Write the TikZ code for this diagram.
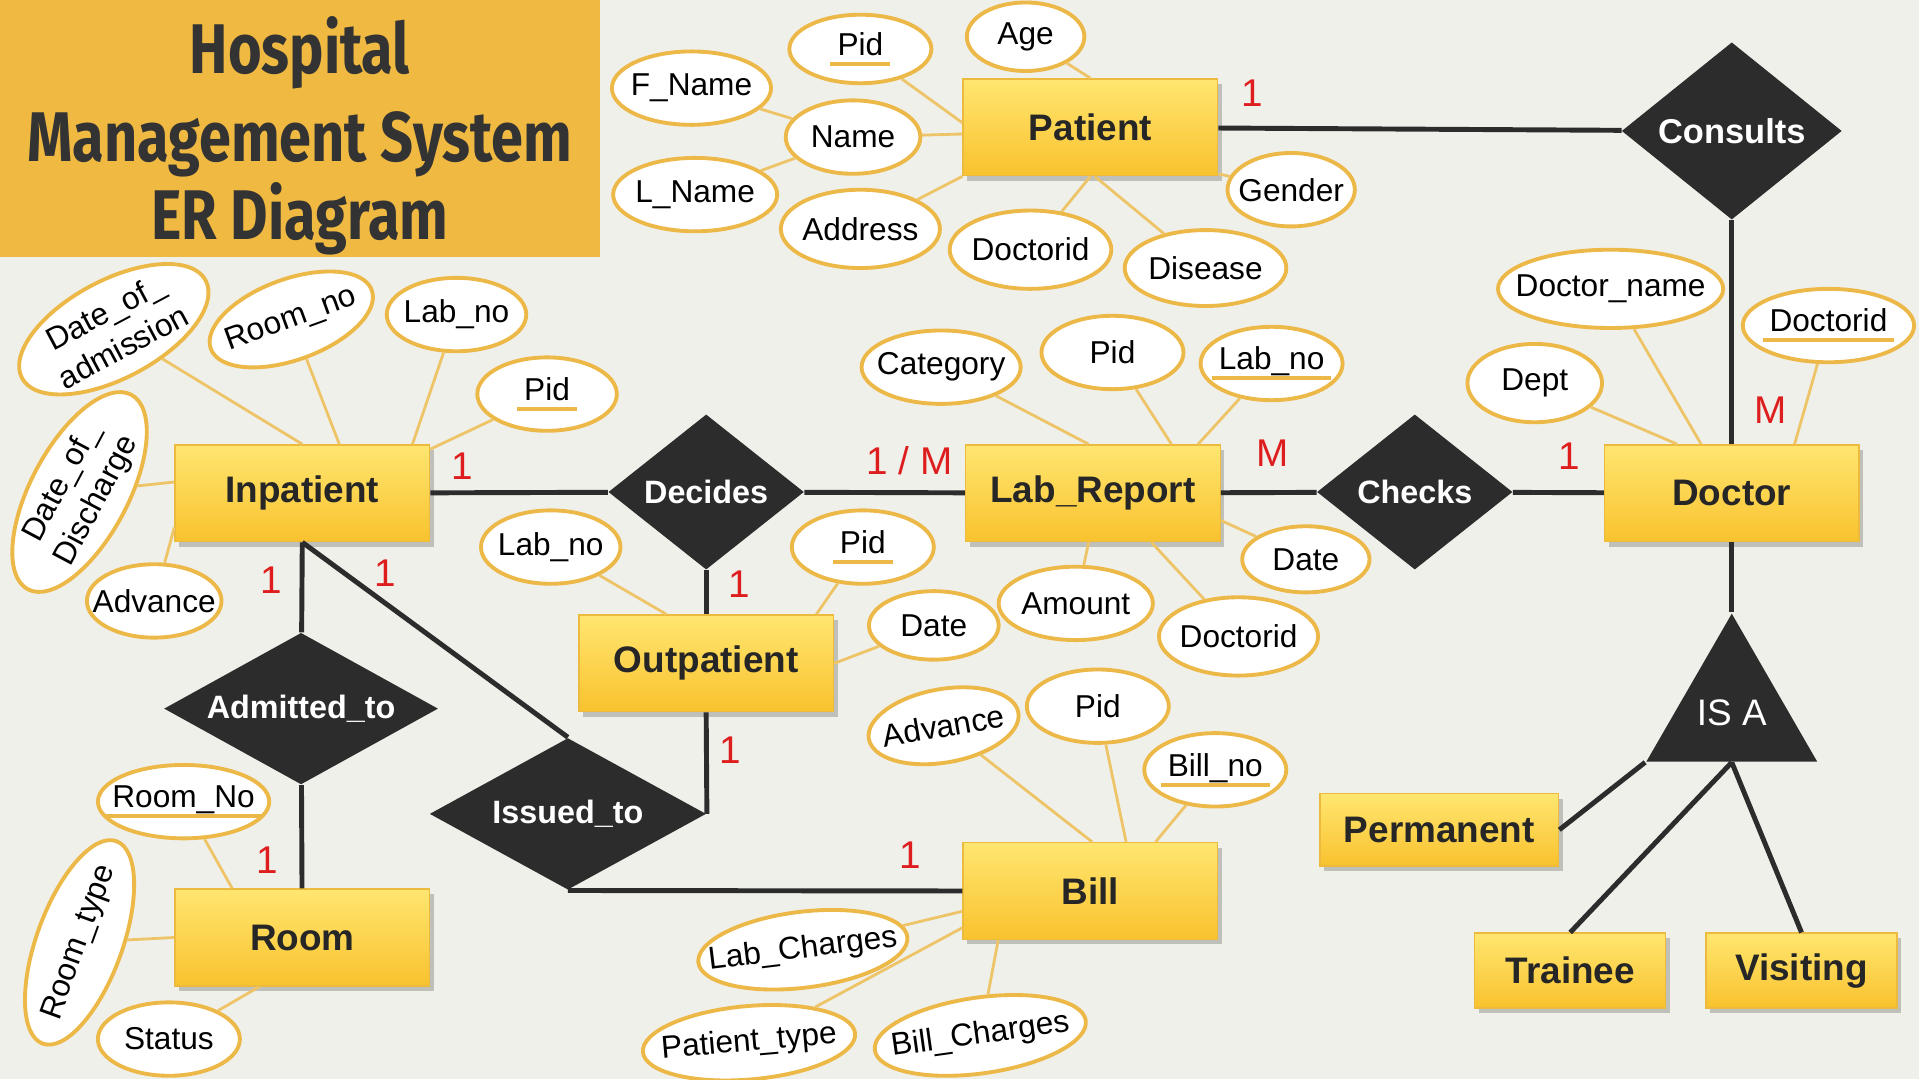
\documentclass[tikz,border=0pt]{standalone}
\usepackage{fontspec}
\setmainfont{Liberation Sans}
\newfontfamily\titlefont[FakeStretch=0.82]{Fira Sans}
\usepackage{xcolor}
\usetikzlibrary{shapes.geometric,shadows}

\definecolor{bgc}{RGB}{240,240,234}
\definecolor{titlec}{RGB}{240,185,66}
\definecolor{enttop}{RGB}{255,230,112}
\definecolor{entbot}{RGB}{249,194,46}
\definecolor{entline}{RGB}{236,186,60}
\definecolor{relc}{RGB}{44,44,44}
\definecolor{attrline}{RGB}{236,184,72}
\definecolor{linkc}{RGB}{238,196,104}
\definecolor{cardc}{RGB}{222,30,30}

% key attribute: text with a thick orange underline
\newcommand{\pk}[1]{\setbox0=\hbox{#1}\hbox{\kern-2pt\textcolor{attrline}{\rule[-3pt]{\dimexpr\wd0+4pt\relax}{1.1pt}}\kern-\dimexpr\wd0+2pt\relax\copy0}}

\begin{document}
\begin{tikzpicture}[
  x=0.012239cm, y=-0.012239cm,
  entity/.style={rectangle, draw=entline, line width=0.4pt, top color=enttop, bottom color=entbot, minimum width=2.546cm, minimum height=0.967cm, inner sep=0pt, text=black!85, font=\bfseries\fontsize{10.5}{12}\selectfont, drop shadow={shadow xshift=1.2pt, shadow yshift=-1.4pt, fill=black, opacity=0.2}},
  rel/.style={diamond, fill=relc, aspect=1.3, inner sep=0pt, text=white, font=\bfseries\fontsize{9.2}{11}\selectfont},
  attr/.style={ellipse, draw=attrline, line width=1.1pt, fill=white, inner xsep=-10pt, inner ysep=0pt, minimum width=1.42cm, minimum height=0.734cm, align=center, font=\fontsize{9}{11.2}\selectfont},
  link/.style={draw=linkc, line width=0.8pt},
  conn/.style={draw=relc, line width=1.4pt},
  card/.style={text=cardc, inner sep=0pt, font=\fontsize{11}{13}\selectfont}
]
\useasboundingbox (0,0) rectangle (1568,882);
\fill[bgc] (0,0) rectangle (1568,882);

\node[rectangle, fill=titlec, minimum width=5.997cm, minimum height=2.57cm, inner sep=0pt] (titlebox) at (245,105) {};
\node[anchor=base, text=black!80, font=\titlefont\bfseries\fontsize{20}{24}\selectfont] (title1) at (245,60) {Hospital};
\node[anchor=base, text=black!80, font=\titlefont\bfseries\fontsize{20}{24}\selectfont] (title2) at (245,132) {Management System};
\node[anchor=base, text=black!80, font=\titlefont\bfseries\fontsize{20}{24}\selectfont] (title3) at (245,196) {ER Diagram};

\node[entity] (patient) at (891,104) {Patient};
\node[entity] (inpat) at (247,403) {Inpatient};
\node[entity] (labrep) at (893,403) {Lab\_Report};
\node[entity] (doctor) at (1415,403) {Doctor};
\node[entity] (outpat) at (577,542) {Outpatient};
\node[entity] (room) at (247,766) {Room};
\node[entity] (bill) at (891,728) {Bill};
\node[entity, minimum width=2.387cm, minimum height=0.722cm] (perm) at (1176,678) {Permanent};
\node[entity, minimum width=1.909cm, minimum height=0.747cm] (trainee) at (1283,793) {Trainee};
\node[entity, minimum width=1.909cm, minimum height=0.747cm] (visiting) at (1472,793) {Visiting};

\node[rel, minimum width=2.203cm, minimum height=1.775cm, font=\bfseries\fontsize{9.8}{11}\selectfont] (consults) at (1415,107) {Consults};
\node[rel, minimum width=1.958cm, minimum height=1.554cm] (decides) at (577,402) {Decides};
\node[rel, minimum width=1.958cm, minimum height=1.554cm] (checks) at (1156,402) {Checks};
\node[rel, aspect=1.8, minimum width=2.742cm, minimum height=1.518cm] (admitted) at (246,579) {Admitted\_to};
\node[rel, aspect=1.8, minimum width=2.766cm, minimum height=1.518cm] (issued) at (464,665) {Issued\_to};
\node[regular polygon, regular polygon sides=3, fill=relc, minimum size=1.836cm, inner sep=0pt, text=white, font=\fontsize{10.5}{12}\selectfont] (isa) at (1415,582) {IS A};

\draw[conn] (patient) -- (consults);
\draw[conn] (consults) -- (doctor);
\draw[conn] (inpat) -- (decides);
\draw[conn] (decides) -- (labrep);
\draw[conn] (labrep) -- (checks);
\draw[conn] (checks) -- (doctor);
\draw[conn] (decides) -- (outpat);
\draw[conn] (inpat.south) -- (admitted);
\draw[conn] (admitted) -- (room);
\draw[conn] (inpat.south) -- (issued.north);
\draw[conn] (outpat.south) -- (issued.east);
\draw[conn] (issued.south) -- (bill.west);
\draw[conn] (doctor) -- (isa.corner 1);
\draw[conn] (isa.corner 2) -- (perm.east);
\draw[conn] (isa.side 2) -- (trainee.north);
\draw[conn] (isa.side 2) -- (visiting.north);

\node[card] (cpat) at (1023,76) {1};
\node[card] (cdoccons) at (1447,335) {M};
\node[card] (cinpdec) at (378,381) {1};
\node[card] (clabdec) at (743,376) {1 / M};
\node[card] (clabchk) at (1040,370) {M};
\node[card] (cdocchk) at (1282,373) {1};
\node[card] (coutdec) at (604,477) {1};
\node[card] (cinpadm) at (222,474) {1};
\node[card] (cinpiss) at (315,468) {1};
\node[card] (croom) at (218,703) {1};
\node[card] (coutiss) at (597,613) {1};
\node[card] (cbill) at (744,699) {1};

\node[attr, minimum height=0.685cm] (ppid) at (703,40) {\pk{Pid}};
\node[attr, minimum width=1.175cm, minimum height=0.685cm] (page) at (838,30) {Age};
\node[attr, minimum width=1.591cm] (pfname) at (565,72) {F\_Name};
\node[attr, minimum width=1.346cm] (pname) at (697,112) {Name};
\node[attr, minimum width=1.64cm] (plname) at (568,159) {L\_Name};
\node[attr, minimum width=1.591cm, minimum height=0.783cm] (paddr) at (703,187) {Address};
\node[attr, minimum width=1.616cm, minimum height=0.783cm] (pdocid) at (842,204) {Doctorid};
\node[attr, minimum width=1.616cm, minimum height=0.759cm] (pdisease) at (985,219) {Disease};
\node[attr, minimum width=1.273cm] (pgender) at (1055,155) {Gender};

\draw[link] (ppid) -- (patient.178);
\draw[link] (page) -- (patient.north);
\draw[link] (pname) -- (patient.183);
\draw[link] (pfname) -- (pname);
\draw[link] (plname) -- (pname);
\draw[link] (paddr) -- (patient.south west);
\draw[link] (pdocid) -- (patient.south);
\draw[link] (pdisease) -- (patient.-85);
\draw[link] (pgender) -- (patient.-20);

\node[attr, minimum width=2.252cm, minimum height=0.783cm] (dname) at (1316,236) {Doctor\_name};
\node[attr, minimum width=1.713cm] (ddocid) at (1494,266) {\pk{Doctorid}};
\node[attr, minimum width=1.346cm, minimum height=0.783cm] (ddept) at (1254,313) {Dept};

\draw[link] (dname) -- (doctor.122);
\draw[link] (ddept) -- (doctor.138);
\draw[link] (ddocid) -- (doctor.38);

\node[attr, minimum width=1.591cm] (lcat) at (769,300) {Category};
\node[attr] (lpid) at (909,288) {Pid};
\node[attr] (llabno) at (1039,297) {\pk{Lab\_no}};
\node[attr, minimum width=1.273cm, minimum height=0.661cm] (ldate) at (1067,457) {Date};
\node[attr, minimum width=1.542cm] (lamount) at (879,493) {Amount};
\node[attr, minimum width=1.591cm, minimum height=0.783cm] (ldocid) at (1012,520) {Doctorid};

\draw[link] (lcat) -- (labrep.95);
\draw[link] (lpid) -- (labrep.32);
\draw[link] (llabno) -- (labrep.25);
\draw[link] (ldate) -- (labrep.-12);
\draw[link] (lamount) -- (labrep.-95);
\draw[link] (ldocid) -- (labrep.-40);

\node[attr, rotate=28, minimum width=2.08cm, minimum height=0.98cm] (idoa) at (93,269) {Date\_of\_\\admission};
\node[attr, rotate=20, minimum width=1.713cm, minimum height=0.808cm] (iroom) at (238,261) {Room\_no};
\node[attr, minimum width=1.395cm] (ilabno) at (373,257) {Lab\_no};
\node[attr, minimum width=1.395cm] (ipid) at (447,322) {\pk{Pid}};
\node[attr, rotate=62, minimum width=2.203cm, minimum height=0.93cm] (idod) at (65,402) {Date\_of\_\\Discharge};
\node[attr, minimum width=1.346cm] (iadv) at (126,491) {Advance};

\draw[link] (idoa) -- (inpat.north);
\draw[link] (iroom) -- (inpat.53);
\draw[link] (ilabno) -- (inpat.24);
\draw[link] (ipid) -- (inpat.19);
\draw[link] (idod) -- (inpat.175);
\draw[link] (iadv) -- (inpat.195);

\node[attr, minimum width=1.395cm] (olabno) at (450,447) {Lab\_no};
\node[attr] (opid) at (705,447) {\pk{Pid}};
\node[attr, minimum width=1.297cm, minimum height=0.685cm] (odate) at (763,511) {Date};

\draw[link] (olabno) -- (outpat.129);
\draw[link] (opid) -- (outpat.24);
\draw[link] (odate) -- (outpat.east);

\node[attr, minimum width=1.713cm] (rno) at (150,655) {\pk{Room\_No}};
\node[attr, rotate=70, minimum width=2.154cm, minimum height=0.857cm] (rtype) at (65,770) {Room\_type};
\node[attr] (rstatus) at (138,849) {Status};

\draw[link] (rno) -- (room.145);
\draw[link] (rtype) -- (room.west);
\draw[link] (rstatus) -- (room.-131);

\node[attr, rotate=10, minimum width=1.518cm] (badv) at (771,593) {Advance};
\node[attr] (bpid) at (897,577) {Pid};
\node[attr] (bbillno) at (993,629) {\pk{Bill\_no}};
\node[attr, rotate=7, minimum width=2.105cm, minimum height=0.759cm] (blab) at (656,776) {Lab\_Charges};
\node[attr, rotate=5, minimum width=2.13cm] (bptype) at (612,852) {Patient\_type};
\node[attr, rotate=8, minimum width=2.13cm, minimum height=0.759cm] (bcharges) at (801,846) {Bill\_Charges};

\draw[link] (badv) -- (bill.88);
\draw[link] (bpid) -- (bill.54);
\draw[link] (bbillno) -- (bill.37);
\draw[link] (blab) -- (bill.189);
\draw[link] (bptype) -- (bill.196);
\draw[link] (bcharges) -- (bill.208);

\end{tikzpicture}
\end{document}
